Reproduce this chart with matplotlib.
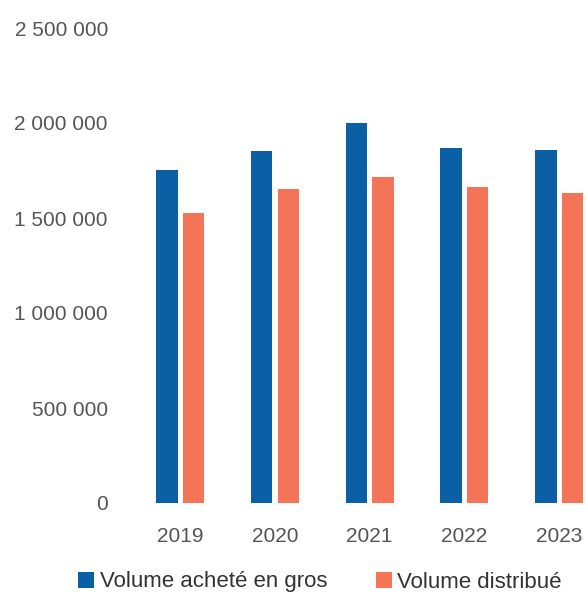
import numpy as np
import matplotlib.pyplot as plt

# Donnees
annees = ['2019', '2020', '2021', '2022', '2023']
volume_achete = [1753000, 1854000, 1998000, 1867000, 1858000]
volume_distribue = [1528000, 1651000, 1714000, 1662000, 1630000]
yticks = [0, 500000, 1000000, 1500000, 2000000, 2500000]
ytick_labels = ['0', '500 000', '1 000 000', '1 500 000', '2 000 000', '2 500 000']

bleu = '#0b5fa5'
orange = '#f47458'
gris = '#555555'

plt.rcParams['font.family'] = ['Liberation Sans', 'DejaVu Sans']

W, H = 586, 596
fig = plt.figure(figsize=(W/100, H/100), dpi=100)
# axes: x de 133 a 586 px, y de 503 px (0) vers le haut
ax = fig.add_axes([133/W, 1-503/H, 1-133/W, 494/H])

x = np.arange(len(annees))
larg = 0.227
ax.bar(x - 0.14, volume_achete, larg, color=bleu, label='Volume acheté en gros')
ax.bar(x + 0.14, volume_distribue, larg, color=orange, label='Volume distribué')

ax.set_xlim(-0.5, 4.285)
ax.set_ylim(0, 2600000)
ax.set_xticks(x)
ax.set_xticklabels(annees)
ax.set_yticks(yticks)
ax.set_yticklabels(ytick_labels)
ax.tick_params(axis='both', length=0, labelsize=15, colors=gris)
ax.tick_params(axis='y', pad=18)
ax.tick_params(axis='x', pad=17)
for s in ax.spines.values():
    s.set_visible(False)

fig.legend(loc='center', bbox_to_anchor=(320/W, 1-582/H), ncol=2, frameon=False,
           fontsize=16, handlelength=0.7, handleheight=0.7, handletextpad=0.25,
           columnspacing=2.2, labelcolor='#333333')

fig.savefig('out.png', dpi=100)
